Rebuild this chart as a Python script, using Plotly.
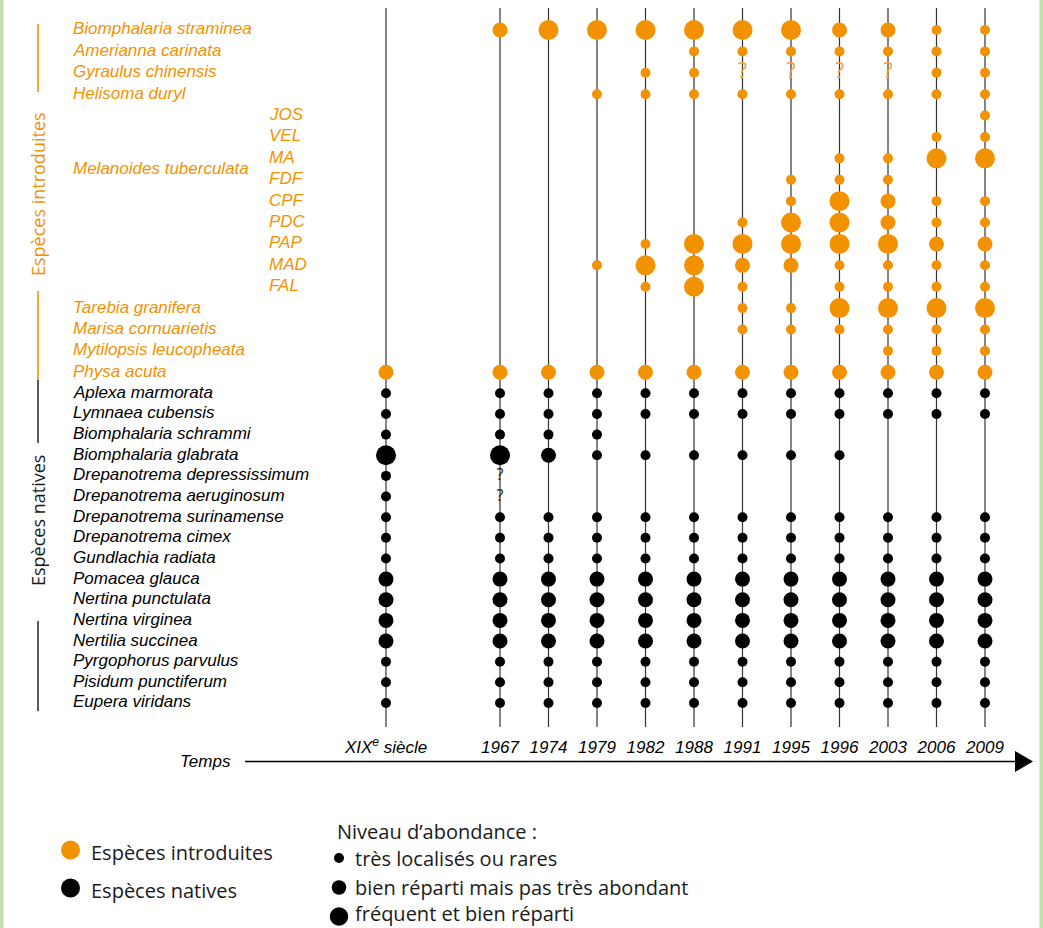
import plotly.graph_objects as go

# ---------------------------------------------------------------------------
# Data
# ---------------------------------------------------------------------------
periods = ["XIX<sup>e</sup> siècle", "1967", "1974", "1979", "1982", "1988",
           "1991", "1995", "1996", "2003", "2006", "2009"]

melanoides_sites = ["JOS", "VEL", "MA", "FDF", "CPF", "PDC", "PAP", "MAD", "FAL"]

introduced = (["Biomphalaria straminea", "Amerianna carinata",
               "Gyraulus chinensis", "Helisoma duryl"]
              + melanoides_sites
              + ["Tarebia granifera", "Marisa cornuarietis",
                 "Mytilopsis leucopheata", "Physa acuta"])

natives = ["Aplexa marmorata", "Lymnaea cubensis", "Biomphalaria schrammi",
           "Biomphalaria glabrata", "Drepanotrema depressissimum",
           "Drepanotrema aeruginosum", "Drepanotrema surinamense",
           "Drepanotrema cimex", "Gundlachia radiata", "Pomacea glauca",
           "Nertina punctulata", "Nertina virginea", "Nertilia succinea",
           "Pyrgophorus parvulus", "Pisidum punctiferum", "Eupera viridans"]

# Abundance per period, introduced species first then natives.
# 0 = absent, 1 = très localisés ou rares, 2 = bien réparti mais pas très
# abondant, 3 = fréquent et bien réparti, "?" = présence incertaine
ab_xix = [0, 0, 0, 0, 0, 0, 0, 0, 0, 0, 0, 0, 0, 0, 0, 0, 2,
          1, 1, 1, 3, 1, 1, 1, 1, 1, 2, 2, 2, 2, 1, 1, 1]
ab_1967 = [2, 0, 0, 0, 0, 0, 0, 0, 0, 0, 0, 0, 0, 0, 0, 0, 2,
           1, 1, 1, 3, "?", "?", 1, 1, 1, 2, 2, 2, 2, 1, 1, 1]
ab_1974 = [3, 0, 0, 0, 0, 0, 0, 0, 0, 0, 0, 0, 0, 0, 0, 0, 2,
           1, 1, 1, 2, 0, 0, 1, 1, 1, 2, 2, 2, 2, 1, 1, 1]
ab_1979 = [3, 0, 0, 1, 0, 0, 0, 0, 0, 0, 0, 1, 0, 0, 0, 0, 2,
           1, 1, 1, 1, 0, 0, 1, 1, 1, 2, 2, 2, 2, 1, 1, 1]
ab_1982 = [3, 0, 1, 1, 0, 0, 0, 0, 0, 0, 1, 3, 1, 0, 0, 0, 2,
           1, 1, 0, 1, 0, 0, 1, 1, 1, 2, 2, 2, 2, 1, 1, 1]
ab_1988 = [3, 1, 1, 1, 0, 0, 0, 0, 0, 0, 3, 3, 3, 0, 0, 0, 2,
           1, 1, 0, 1, 0, 0, 1, 1, 1, 2, 2, 2, 2, 1, 1, 1]
ab_1991 = [3, 1, "?", 1, 0, 0, 0, 0, 0, 1, 3, 2, 1, 1, 1, 0, 2,
           1, 1, 0, 1, 0, 0, 1, 1, 1, 2, 2, 2, 2, 1, 1, 1]
ab_1995 = [3, 1, "?", 1, 0, 0, 0, 1, 1, 3, 3, 2, 0, 1, 1, 0, 2,
           1, 1, 0, 1, 0, 0, 1, 1, 1, 2, 2, 2, 2, 1, 1, 1]
ab_1996 = [2, 1, "?", 1, 0, 0, 1, 1, 3, 3, 3, 1, 1, 3, 1, 0, 2,
           1, 1, 0, 1, 0, 0, 1, 1, 1, 2, 2, 2, 2, 1, 1, 1]
ab_2003 = [2, 1, "?", 1, 0, 0, 1, 1, 2, 2, 3, 1, 1, 3, 1, 1, 2,
           1, 1, 0, 0, 0, 0, 1, 1, 1, 2, 2, 2, 2, 1, 1, 1]
ab_2006 = [1, 1, 1, 1, 0, 1, 3, 0, 1, 1, 2, 1, 1, 3, 1, 1, 2,
           1, 1, 0, 0, 0, 0, 1, 1, 1, 2, 2, 2, 2, 1, 1, 1]
ab_2009 = [1, 1, 1, 1, 1, 1, 3, 0, 1, 1, 2, 1, 1, 3, 1, 1, 2,
           1, 1, 0, 0, 0, 0, 1, 1, 1, 2, 2, 2, 2, 1, 1, 1]

abundance = [ab_xix, ab_1967, ab_1974, ab_1979, ab_1982, ab_1988,
             ab_1991, ab_1995, ab_1996, ab_2003, ab_2006, ab_2009]

abundance_levels = ["très localisés ou rares",
                    "bien réparti mais pas très abondant",
                    "fréquent et bien réparti"]

# ---------------------------------------------------------------------------
# Style
# ---------------------------------------------------------------------------
W, H = 1043, 928
ORANGE = "#f39200"
Q_ORANGE = "#f5a43c"
INK = "#1a1a1a"
GREEN = "#c4ddae"
SIZES = {1: 10, 2: 15, 3: 20}
ITALIC_FONT = "Liberation Sans, Arial, sans-serif"
TEXT_FONT = "Open Sans, Noto Sans, sans-serif"


def px(x):
    return x / W


def py(y):
    return 1 - y / H


fig = go.Figure()

n_intro = len(introduced)
groups = [(introduced, 0, "y", ORANGE, Q_ORANGE, 21),
          (natives, n_intro, "y2", "black", INK, 16)]
axis_periods = [("x", [0]), ("x2", list(range(1, len(periods))))]

for names, offset, yax, color, qcolor, qsize in groups:
    for xax, idxs in axis_periods:
        mx, my, ms, qx, qy = [], [], [], [], []
        for j in idxs:
            for k, name in enumerate(names):
                v = abundance[j][offset + k]
                if v == "?":
                    qx.append(periods[j])
                    qy.append(name)
                elif v:
                    mx.append(periods[j])
                    my.append(name)
                    ms.append(SIZES[v])
        fig.add_trace(go.Scatter(
            x=mx, y=my, mode="markers", xaxis=xax, yaxis=yax,
            marker=dict(size=ms, color=color, line=dict(width=0), opacity=1),
            hoverinfo="x+y", showlegend=False))
        if qx:
            fig.add_trace(go.Scatter(
                x=qx, y=qy, mode="text", text=["?"] * len(qx),
                textposition="middle center", xaxis=xax, yaxis=yax,
                textfont=dict(family=TEXT_FONT, size=qsize, color=qcolor),
                hoverinfo="skip", showlegend=False))

# ---------------------------------------------------------------------------
# Shapes: timeline verticals, group brackets, time arrow, side bands
# ---------------------------------------------------------------------------
shapes = []
for j in range(len(periods)):
    xref, xi = ("x", 0) if j == 0 else ("x2", j - 1)
    shapes.append(dict(type="line", xref=xref, yref="paper", x0=xi, x1=xi,
                       y0=py(727), y1=py(8), layer="below",
                       line=dict(color="#333333", width=1.2)))

for y0, y1, c in [(24, 92, ORANGE), (291, 380, ORANGE),
                  (380, 443, "#333333"), (621, 711, "#333333")]:
    shapes.append(dict(type="line", xref="paper", yref="paper",
                       x0=px(38), x1=px(38), y0=py(y0), y1=py(y1),
                       line=dict(color=c, width=1.6)))

shapes.append(dict(type="line", xref="paper", yref="paper",
                   x0=px(245), x1=px(1016), y0=py(761.5), y1=py(761.5),
                   line=dict(color="black", width=1.3)))
shapes.append(dict(type="path", xref="paper", yref="paper",
                   path=(f"M {px(1015)} {py(751)} L {px(1033)} {py(761.5)} "
                         f"L {px(1015)} {py(772)} Z"),
                   fillcolor="black", line=dict(width=0)))

shapes.append(dict(type="rect", xref="paper", yref="paper", x0=0, x1=px(3.5),
                   y0=0, y1=1, fillcolor=GREEN, line=dict(width=0)))
shapes.append(dict(type="rect", xref="paper", yref="paper", x0=px(1039.5),
                   x1=1, y0=0, y1=1, fillcolor=GREEN, line=dict(width=0)))


def dot(cx, cy, d, color):
    r = d / 2
    return dict(type="circle", xref="paper", yref="paper",
                x0=px(cx - r), x1=px(cx + r), y0=py(cy + r), y1=py(cy - r),
                fillcolor=color, line=dict(width=0))


# Legend keys
shapes.append(dot(70.5, 850, 19, ORANGE))
shapes.append(dot(70.5, 888, 19, "black"))
for cy, d in zip([858, 887.5, 916.5], [10, 14.5, 18.5]):
    shapes.append(dot(339, cy, d, "black"))

# ---------------------------------------------------------------------------
# Annotations: species names, group titles, legend
# ---------------------------------------------------------------------------
ann = []


def label(text, x, y, font, xanchor="left", yref="paper", **kw):
    ann.append(dict(text=text, x=x, y=y, xref="paper", yref=yref,
                    xanchor=xanchor, yanchor="middle", showarrow=False,
                    font=font, **kw))


intro_font = dict(family=ITALIC_FONT, size=17, color=ORANGE, style="italic")
native_font = dict(family=ITALIC_FONT, size=17, color="black", style="italic")

for k, name in enumerate(introduced):
    x = px(267) if name in melanoides_sites else px(71)
    label(name, x, k, intro_font, yref="y", yshift=1)
label("Melanoides tuberculata", px(71), introduced.index("MA") + 0.5,
      intro_font, yref="y", yshift=1)
for k, name in enumerate(natives):
    label(name, px(71), k, native_font, yref="y2", yshift=1)

label("Espèces introduites", px(38), py(194),
      dict(family=TEXT_FONT, size=18, color=ORANGE), xanchor="center",
      textangle=-90)
label("Espèces natives", px(38), py(521),
      dict(family=TEXT_FONT, size=18, color=INK), xanchor="center",
      textangle=-90)

label("Temps", px(233), py(761), native_font, xanchor="right")

legend_font = dict(family=TEXT_FONT, size=20, color=INK)
label("Espèces introduites", px(89), py(852), legend_font)
label("Espèces natives", px(89), py(890), legend_font)
label("Niveau d’abondance :", px(335), py(831), legend_font)
for cy, text in zip([858, 887, 913.5], abundance_levels):
    label(text, px(353), py(cy), legend_font)

# ---------------------------------------------------------------------------
# Layout
# ---------------------------------------------------------------------------
hidden_y = dict(type="category", showgrid=False, zeroline=False,
                showline=False, showticklabels=False, ticks="",
                automargin=False, fixedrange=True)
x_common = dict(type="category", showgrid=False, zeroline=False,
                showline=False, ticks="outside", ticklen=18,
                tickcolor="rgba(0,0,0,0)", anchor="y2", automargin=False,
                fixedrange=True,
                tickfont=dict(family=ITALIC_FONT, size=17, color="black",
                              style="italic"))

fig.update_layout(
    template="none",
    width=W, height=H, autosize=False,
    margin=dict(l=0, r=0, t=0, b=0, pad=0),
    paper_bgcolor="white", plot_bgcolor="rgba(0,0,0,0)",
    showlegend=False,
    xaxis=dict(**x_common, domain=[px(361), px(411)],
               categoryorder="array", categoryarray=periods[:1],
               range=[-0.5, 0.5]),
    xaxis2=dict(**x_common, domain=[px(475.75), px(1009.25)],
                categoryorder="array", categoryarray=periods[1:],
                range=[-0.5, len(periods) - 1.5]),
    yaxis=dict(**hidden_y, domain=[py(383), py(19.3)], anchor="x",
               categoryorder="array", categoryarray=introduced,
               range=[n_intro - 0.5, -0.5]),
    yaxis2=dict(**hidden_y, domain=[py(713.3), py(383)], anchor="x",
                categoryorder="array", categoryarray=natives,
                range=[len(natives) - 0.5, -0.5]),
    shapes=shapes,
    annotations=ann,
)

fig.write_html("out.html")
